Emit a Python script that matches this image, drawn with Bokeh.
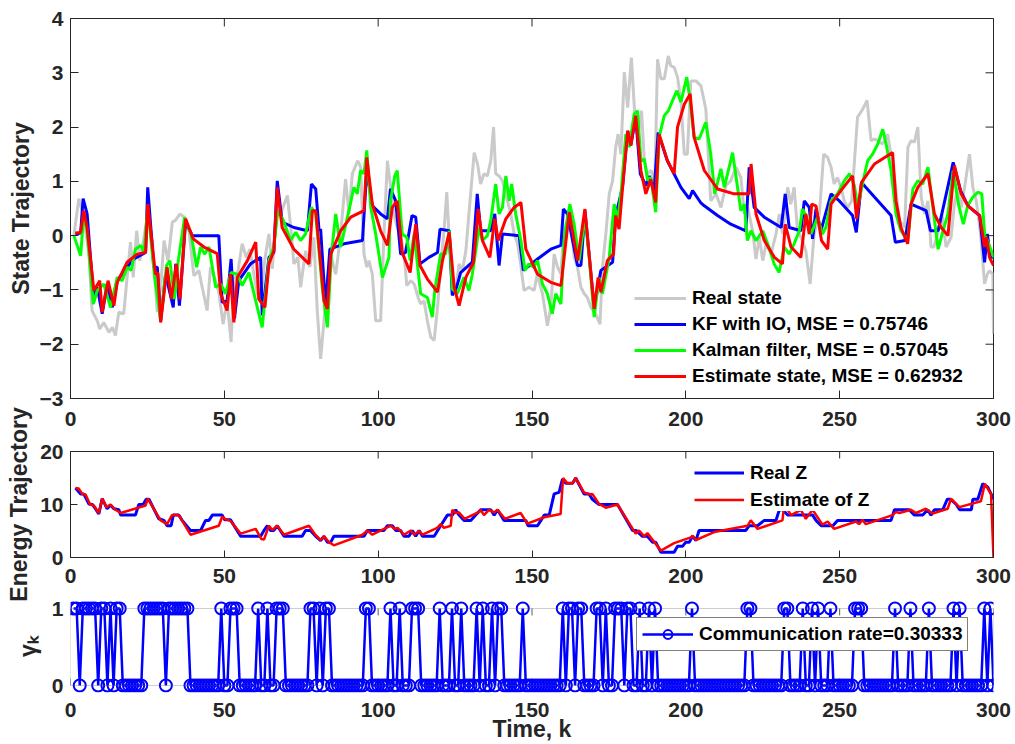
import math
from bokeh.plotting import figure
from bokeh.layouts import column
from bokeh.models import (Range1d, FixedTicker, Legend, LegendItem, BoxAnnotation)
from bokeh.embed import file_html
from bokeh.resources import INLINE

# ---------------- data ----------------
X_MIN, X_MAX = 0, 300
X_TICKS = [0, 50, 100, 150, 200, 250, 300]
STATE_TICKS = [-3, -2, -1, 0, 1, 2, 3, 4]
ENERGY_TICKS = [0, 10, 20]
GAMMA_TICKS = [0, 1]

REAL_STATE = [
    (1.1, 0.0), (2.7, 0.68), (4.1, 0.40), (6.0, -0.34), (7.0, -1.38), (8.7, -1.57), (9.5, -1.72),
    (10.8, -1.60), (12.5, -1.78), (13.6, -1.69), (14.6, -1.84), (15.7, -1.41), (17.3, -1.44),
    (18.4, -0.77), (19.5, -0.12), (20.4, -0.77), (21.5, 0.09), (22.5, -0.46), (23.8, -0.06),
    (25.1, 0.40), (26.6, -0.09), (28.2, -1.41), (29.3, -0.95), (30.4, -0.09), (31.7, -0.46),
    (33.1, 0.25), (34.1, 0.28), (35.6, 0.40), (36.9, 0.34), (38.5, 0.09), (40.1, -0.74),
    (41.7, -0.64), (42.8, -0.95), (44.4, -1.38), (45.5, -0.58), (47.2, -0.83), (48.2, -1.04),
    (49.6, -1.63), (50.9, -1.20), (52.2, -1.96), (53.1, -0.77), (54.2, -0.74), (55.8, -0.15),
    (57.1, -0.40), (58.3, -0.25), (59.6, -0.71), (60.7, -1.07), (61.8, -1.23), (63.1, -0.46),
    (64.5, 0.03), (65.6, -0.61), (67.0, 0.52), (68.3, 0.40), (70.5, 0.74), (71.8, 0.03),
    (72.6, -0.52), (73.9, -0.40), (74.8, -0.95), (76.4, -0.28), (77.8, -0.58), (79.1, -0.03),
    (80.2, -1.38), (81.3, -2.27), (82.4, -1.57), (83.5, -0.77), (84.8, -0.40), (86.2, -0.71),
    (87.6, -0.09), (89.4, 1.04), (90.5, 0.40), (91.6, 1.14), (92.7, 1.29), (93.4, 1.38),
    (94.3, 1.26), (95.4, -0.34), (96.3, -0.58), (97.0, -0.46), (98.1, -0.71), (99.2, -1.57),
    (100.8, -1.57), (101.9, 0.03), (103.0, 1.38), (104.1, 0.89), (105.1, 0.40), (106.2, 0.15),
    (107.3, 0.03), (108.6, -0.46), (109.3, -0.92), (110.6, -0.83), (111.7, -0.89), (113.0, -1.14),
    (113.8, -1.26), (114.9, -1.20), (116.0, -1.57), (117.1, -1.87), (118.2, -1.93), (119.3, -1.32),
    (120.3, -0.58), (121.4, 0.09), (122.3, 0.80), (123.0, 0.03), (124.1, -1.07), (125.2, -1.01),
    (126.3, -0.52), (127.4, -0.64), (128.5, -0.28), (129.5, 0.40), (131.2, 1.53), (132.3, 1.32),
    (133.3, 0.95), (134.4, 1.14), (135.5, 1.10), (136.6, 1.38), (137.5, 2.00), (138.2, 1.14),
    (139.3, 1.10), (140.4, 1.01), (142.0, 0.64), (143.1, 0.40), (144.2, 0.03), (145.3, -0.15),
    (146.3, -0.52), (147.4, -1.01), (149.0, -0.95), (150.7, -1.01), (151.7, -0.71), (153.4, -1.07),
    (155.0, -1.66), (156.1, -1.32), (157.2, -0.34), (158.3, -0.58), (159.4, -0.71), (160.2, 0.03),
    (161.5, 0.28), (162.6, 0.40), (163.7, -0.40), (164.8, -0.58), (165.9, -0.95), (167.0, -1.07),
    (168.0, -1.14), (169.1, -1.32), (170.7, -1.44), (172.1, -1.63), (172.9, -0.58), (174.0, 0.03),
    (175.1, 0.77), (176.2, 1.01), (177.2, 1.63), (178.0, 1.87), (178.9, 1.50), (180.0, 3.01),
    (181.1, 2.36), (182.3, 3.28), (183.4, 2.24), (184.5, 1.87), (185.6, 2.30), (186.5, 1.38),
    (187.5, 1.14), (188.8, 1.20), (189.9, 0.89), (190.8, 3.25), (191.9, 2.89), (193.0, 2.89),
    (194.3, 3.31), (195.1, 3.13), (196.2, 3.10), (197.3, 2.92), (198.4, 2.49), (199.5, 1.50),
    (200.5, 1.50), (201.6, 2.85), (203.3, 2.85), (204.9, 2.76), (206.5, 2.33), (208.1, 0.64),
    (209.8, 0.77), (211.4, 0.52), (213.0, 0.92), (214.6, 1.01), (216.3, 1.26), (217.9, 1.07),
    (219.0, 0.40), (220.1, 0.52), (221.7, 0.09), (222.8, -0.43), (223.9, -0.03), (225.0, -0.46),
    (226.1, -0.15), (227.7, -0.34), (229.3, 0.03), (230.4, 0.40), (231.5, 0.03), (233.1, 0.89),
    (234.1, 0.58), (235.2, 0.89), (236.3, 0.09), (237.9, -0.09), (239.0, -0.28), (240.4, -0.89),
    (241.7, 0.03), (243.4, 0.40), (244.8, 1.50), (246.1, 1.44), (247.2, 1.26), (248.2, 0.95),
    (249.3, 1.07), (250.4, 0.89), (251.5, 0.64), (252.6, 0.52), (253.9, 0.64), (255.8, 2.18),
    (257.5, 2.33), (258.9, 2.49), (260.2, 1.75), (261.3, 1.78), (262.4, 1.75), (264.0, 1.69),
    (265.6, 1.87), (267.8, 1.07), (269.4, 0.28), (271.1, 0.15), (272.2, 1.63), (273.2, 1.75),
    (274.3, 1.72), (275.4, 2.00), (276.5, 0.71), (277.6, 0.40), (278.7, 0.64), (279.7, -0.21),
    (280.6, -0.21), (281.9, 0.03), (283.2, 0.40), (284.6, -0.21), (286.2, -0.03), (287.3, 0.58),
    (288.4, 0.89), (289.5, 0.52), (290.6, 0.89), (292.2, 1.50), (293.3, 0.89), (294.4, 0.64),
    (295.8, 0.03), (297.1, -0.89), (298.0, -0.71), (298.7, -0.65), (299.8, -0.71), (300.0, -1.81),
]

KF_IO = [
    (1.6, 0.03), (3.3, 0.05), (4.1, 0.68), (5.4, 0.40), (7.6, -1.20), (8.7, -0.95), (10.3, -1.44),
    (11.9, -0.89), (13.6, -1.32), (15.2, -0.83), (18.4, -0.58), (20.6, -0.43), (24.4, -0.31),
    (25.1, 0.89), (27.1, -0.58), (28.2, -0.58), (29.3, -1.57), (30.9, -0.71), (33.4, -1.32),
    (34.2, -0.52), (35.4, -1.29), (37.4, 0.25), (39.6, 0.0), (48.2, 0.0), (49.3, -1.23),
    (50.9, -1.20), (52.2, -0.43), (53.3, -1.53), (54.7, -0.83), (58.5, -0.52), (61.8, -0.40),
    (62.3, -1.47), (64.5, -0.40), (66.1, -0.31), (67.2, 1.01), (68.8, 0.25), (72.6, 0.15),
    (77.0, 0.09), (78.3, 0.95), (79.7, 0.86), (80.8, 0.09), (81.3, 0.12), (82.9, -1.32),
    (84.3, -0.25), (88.9, -0.15), (94.9, -0.09), (96.3, 1.20), (98.1, 0.55), (100.8, 0.40),
    (103.0, 0.31), (104.0, 0.86), (105.7, 0.64), (107.3, -0.34), (108.9, -0.31), (111.0, 0.37),
    (112.2, 0.34), (113.6, -0.52), (116.5, -0.40), (119.3, -0.31), (120.1, 0.12), (123.1, 0.09),
    (124.1, -1.10), (125.5, -0.95), (126.8, -0.68), (130.6, -0.49), (132.2, 0.77), (133.3, 0.09),
    (136.5, 0.09), (137.9, 0.40), (139.3, -0.55), (140.4, 0.03), (145.8, 0.0), (147.2, -0.64),
    (151.8, -0.43), (156.1, -0.25), (159.4, -0.18), (160.2, 0.49), (161.5, 0.40), (164.8, -0.55),
    (165.9, -0.55), (167.2, 0.46), (170.2, -1.32), (172.4, -0.64), (176.2, -0.49), (177.2, 0.37),
    (179.4, 0.89), (181.1, 1.93), (182.1, 1.66), (183.7, 2.18), (185.2, 1.14), (187.0, 0.92),
    (188.1, 1.10), (189.7, 0.83), (191.0, 1.90), (194.0, 1.38), (198.4, 0.89), (201.1, 0.68),
    (202.2, 0.83), (204.8, 0.61), (206.0, 0.55), (210.3, 0.37), (214.6, 0.21), (219.5, 0.09),
    (220.6, 1.26), (222.2, 0.52), (225.5, 0.34), (231.0, 0.15), (232.3, 0.77), (233.6, 0.15),
    (237.4, 0.09), (238.5, 0.64), (240.1, 0.52), (241.2, -0.06), (242.3, 0.49), (243.9, 0.09),
    (247.2, 0.77), (249.9, 0.64), (254.2, 0.37), (255.4, 0.06), (257.1, 0.98), (261.3, 0.71),
    (266.7, 0.37), (268.1, -0.12), (271.2, -0.09), (273.2, 0.58), (278.1, 0.46), (279.5, 0.09),
    (282.0, 0.09), (286.9, 1.35), (289.3, 0.83), (291.7, 0.55), (295.5, 0.37), (297.1, -0.49),
    (298.0, 0.03), (299.0, -0.40), (300.0, -0.40),
]

KALMAN = [
    (1.1, 0.0), (3.3, -0.37), (4.3, 0.40), (5.4, 0.09), (7.4, -1.26), (8.7, -1.01), (10.8, -0.89),
    (13.0, -1.32), (15.2, -0.77), (16.8, -0.83), (18.4, -0.58), (19.7, -0.64), (21.1, -0.25),
    (22.8, -0.18), (23.9, -0.31), (25.1, 0.52), (27.3, -0.74), (29.3, -1.57), (31.2, -0.55),
    (32.3, -0.46), (33.8, -1.17), (34.9, -0.52), (37.1, 0.34), (39.2, 0.03), (41.0, -0.58),
    (42.3, -0.21), (43.6, -0.34), (45.0, -0.21), (47.2, -0.95), (48.8, -0.89), (50.4, -1.07),
    (52.2, -0.68), (54.2, -0.71), (55.8, -0.92), (58.0, -0.68), (60.2, -1.20), (62.3, -1.69),
    (64.5, -0.46), (66.1, -0.21), (67.4, 0.46), (69.2, 0.28), (71.5, -0.09), (73.2, 0.06),
    (74.8, -0.09), (76.4, 0.03), (78.3, 0.52), (79.7, 0.40), (81.8, -0.95), (83.5, -1.69),
    (84.8, -0.34), (86.2, 0.40), (87.8, -0.21), (90.5, 0.46), (92.1, 0.89), (93.2, 0.77),
    (94.3, 1.20), (95.4, 1.14), (96.3, 1.57), (97.6, 0.52), (99.2, 0.03), (101.4, -0.77),
    (103.5, -0.40), (104.0, 0.64), (105.4, 1.10), (106.2, 1.20), (107.8, 0.03), (109.3, -0.03),
    (110.4, -0.46), (111.7, 0.03), (113.8, -1.07), (116.0, -1.14), (117.6, -1.50), (118.4, -1.01),
    (120.3, -0.34), (121.9, -0.34), (123.1, 0.09), (124.1, -0.98), (125.7, -1.07), (127.9, -0.77),
    (129.5, -1.01), (130.6, -0.71), (132.8, 0.15), (133.9, -0.09), (135.5, 0.0), (136.6, 0.28),
    (138.2, 0.95), (139.3, 0.40), (140.4, 0.52), (141.5, 1.10), (142.6, 0.64), (143.4, 0.95),
    (144.7, 0.40), (146.4, -0.09), (147.7, -0.64), (149.0, -0.52), (150.5, -0.58), (151.8, -0.46),
    (153.4, -0.89), (155.0, -1.07), (156.6, -1.44), (157.7, -1.07), (159.4, -1.26), (160.6, 0.03),
    (162.3, 0.58), (163.7, 0.21), (165.3, -0.46), (167.2, 0.34), (168.6, -0.40), (170.2, -1.50),
    (171.8, -0.77), (172.9, -1.07), (175.1, -0.40), (176.7, 0.58), (177.9, 0.28), (179.1, 0.89),
    (180.5, 1.87), (181.6, 1.63), (183.2, 2.24), (184.3, 2.30), (185.4, 1.38), (186.5, 1.41),
    (187.6, 1.01), (188.6, 1.07), (190.2, 0.43), (191.3, 1.81), (193.0, 2.21), (194.3, 2.30),
    (195.7, 2.49), (197.1, 2.67), (198.4, 2.46), (200.3, 2.92), (201.4, 2.49), (202.7, 1.81),
    (204.3, 1.78), (206.5, 2.09), (208.1, 1.50), (209.4, 0.77), (211.4, 1.23), (212.5, 0.89),
    (215.2, 1.53), (216.8, 0.89), (217.9, 0.46), (219.0, 0.58), (220.0, -0.09), (221.2, 0.09),
    (222.8, -0.09), (225.0, 0.09), (227.0, -0.21), (228.7, -0.52), (230.3, -0.68), (232.0, -0.21),
    (233.6, -0.34), (235.2, -0.15), (236.9, 0.09), (237.9, 0.49), (239.3, 0.34), (240.7, 0.03),
    (242.8, 0.34), (244.4, 0.03), (245.5, 0.15), (247.2, 0.64), (249.3, 0.77), (251.5, 1.01),
    (253.2, 1.14), (254.8, 0.92), (255.9, 0.52), (257.5, 0.98), (259.1, 1.38), (260.7, 1.50),
    (262.4, 1.69), (264.0, 1.96), (265.1, 1.69), (266.7, 1.20), (268.3, 0.40), (269.9, 0.09),
    (272.1, -0.09), (273.8, 0.86), (275.4, 1.01), (277.0, 0.95), (278.7, 1.26), (280.3, 0.52),
    (282.0, -0.25), (283.6, 0.09), (285.2, 0.40), (286.9, 1.20), (288.6, 0.58), (290.2, 0.21),
    (291.6, 0.55), (293.3, 0.71), (294.9, 0.80), (296.2, 0.77), (297.1, 0.03), (298.0, -0.09),
    (299.7, -0.34), (300.0, -0.40),
]

ESTIMATE = [
    (1.6, 0.05), (3.3, 0.06), (4.3, 0.46), (5.4, 0.15), (7.6, -1.01), (9.5, -0.83), (10.3, -1.41),
    (12.2, -0.83), (14.1, -1.29), (15.2, -0.86), (18.4, -0.49), (21.7, -0.34), (24.4, -0.31),
    (25.1, 0.58), (27.6, -0.71), (28.4, -0.68), (29.3, -1.60), (31.4, -0.58), (32.8, -1.17),
    (34.4, -0.52), (35.6, -1.17), (37.4, 0.31), (39.9, -0.06), (43.4, -0.21), (47.7, -0.33),
    (48.8, -1.07), (50.9, -1.38), (52.0, -0.71), (53.1, -1.60), (54.2, -0.77), (57.5, -0.46),
    (60.2, -0.12), (61.2, -1.17), (63.2, -1.32), (64.5, -0.52), (66.1, -0.28), (67.2, 0.89),
    (68.8, 0.15), (72.6, -0.25), (77.5, -0.52), (78.6, 0.46), (79.7, 0.46), (82.4, -1.20),
    (83.5, -1.35), (84.6, -0.34), (87.8, 0.09), (91.1, 0.34), (95.4, 0.46), (96.3, 1.44),
    (98.1, 0.58), (100.8, 0.09), (103.0, -0.18), (104.6, 0.52), (106.2, 0.64), (107.8, -0.31),
    (110.4, -0.68), (112.2, 0.21), (113.6, -0.55), (116.0, -0.80), (119.3, -1.04), (120.9, -0.46),
    (123.1, 0.06), (124.7, -0.95), (126.3, -1.29), (128.5, -0.77), (131.0, -0.49), (132.5, 0.49),
    (133.9, -0.09), (136.3, -0.40), (137.9, 0.31), (139.0, -0.09), (141.5, 0.31), (144.2, 0.52),
    (146.4, 0.61), (148.0, -0.25), (151.8, -0.71), (156.1, -0.86), (159.4, -0.92), (162.1, 0.43),
    (164.8, -0.46), (167.2, 0.49), (170.2, -1.35), (171.5, -0.77), (172.4, -1.04), (174.5, -0.46),
    (176.5, -0.34), (177.2, 0.37), (178.3, 0.12), (179.4, 0.86), (181.1, 1.93), (182.1, 1.66),
    (183.7, 2.21), (185.4, 1.20), (187.0, 0.77), (188.6, 1.04), (190.2, 0.61), (191.3, 1.87),
    (194.0, 1.38), (196.2, 1.14), (197.3, 2.00), (199.5, 2.42), (201.4, 2.61), (202.7, 1.81),
    (206.0, 1.20), (210.3, 0.86), (215.7, 0.77), (220.6, 0.77), (221.2, 1.32), (222.8, 0.40),
    (225.5, -0.09), (228.8, -0.40), (231.4, -0.52), (232.3, 0.21), (234.2, -0.21), (237.4, -0.40),
    (239.0, 0.40), (240.1, 0.03), (240.9, 0.58), (242.3, 0.55), (244.1, -0.09), (246.1, -0.25),
    (247.2, 0.58), (250.4, 0.83), (254.2, 1.10), (255.5, 0.31), (257.1, 0.98), (261.3, 1.32),
    (267.2, 1.53), (268.3, 0.64), (269.9, 0.15), (272.1, -0.15), (273.2, 0.58), (275.4, 0.89),
    (278.7, 1.14), (280.8, 0.40), (283.0, 0.15), (285.2, 0.0), (287.3, 1.29), (289.5, 0.77),
    (291.7, 0.55), (295.5, 0.37), (297.1, -0.21), (297.7, -0.03), (298.7, -0.40), (300.0, -0.55),
]

REAL_Z = [
    (1.6, 13.1), (3.3, 12.0), (4.3, 12.0), (6.0, 10.1), (7.1, 10.0), (8.1, 9.2), (9.2, 8.2),
    (10.3, 11.1), (11.9, 9.2), (13.0, 9.9), (14.1, 9.2), (15.7, 9.0), (16.3, 8.0), (21.1, 8.0),
    (22.2, 10.0), (23.6, 10.0), (24.6, 11.0), (25.5, 11.0), (28.7, 7.3), (30.4, 7.0), (31.4, 6.0),
    (32.7, 6.0), (33.4, 8.0), (35.2, 8.0), (36.3, 7.0), (39.0, 5.1), (42.3, 5.1), (43.9, 7.0),
    (45.0, 7.0), (46.1, 8.0), (49.3, 8.0), (50.1, 7.1), (52.0, 7.1), (55.3, 4.0), (61.8, 4.0),
    (62.9, 5.1), (64.0, 6.0), (65.0, 5.1), (66.1, 5.1), (67.2, 6.0), (69.4, 4.0), (75.3, 4.0),
    (76.4, 5.1), (78.0, 5.1), (79.7, 4.0), (81.3, 3.2), (82.4, 4.0), (83.5, 2.9), (84.6, 2.9),
    (85.6, 4.0), (95.4, 4.0), (96.5, 5.1), (101.9, 5.1), (103.0, 6.0), (104.6, 6.0), (105.7, 5.1),
    (107.3, 5.1), (108.4, 4.0), (110.0, 4.0), (111.1, 5.1), (112.2, 4.0), (113.3, 5.1), (114.4, 4.0),
    (118.2, 4.0), (120.3, 6.0), (122.5, 8.0), (124.1, 8.0), (125.2, 9.0), (126.3, 8.0), (127.9, 7.0),
    (130.1, 7.0), (131.7, 8.0), (133.3, 9.0), (136.6, 9.0), (137.7, 8.0), (138.8, 9.0), (140.9, 7.0),
    (148.0, 7.0), (148.7, 6.0), (151.8, 6.0), (152.9, 7.0), (154.0, 8.0), (155.6, 8.0), (157.2, 12.0),
    (158.8, 12.3), (159.9, 14.8), (161.0, 14.0), (163.2, 14.0), (164.2, 15.0), (166.9, 12.0),
    (168.5, 12.0), (169.6, 11.0), (171.8, 10.0), (177.8, 10.0), (182.7, 5.1), (183.8, 5.1),
    (185.9, 4.0), (187.5, 4.0), (189.2, 2.9), (190.2, 2.9), (191.9, 1.0), (196.2, 1.0), (197.3, 2.1),
    (198.9, 2.1), (200.0, 2.9), (201.1, 2.9), (202.2, 4.0), (203.3, 3.2), (204.3, 5.1), (219.5, 5.1),
    (220.6, 6.0), (223.3, 6.0), (225.5, 7.0), (229.3, 7.0), (230.4, 9.0), (231.5, 9.0), (233.1, 8.0),
    (241.2, 8.0), (242.3, 7.0), (244.0, 6.0), (247.8, 6.0), (249.3, 7.0), (266.7, 7.0), (267.8, 9.0),
    (272.6, 9.0), (274.3, 8.0), (277.0, 8.0), (278.6, 9.0), (279.7, 8.0), (280.8, 9.0), (283.5, 9.0),
    (285.0, 11.0), (286.0, 11.0), (287.9, 10.0), (289.0, 9.0), (292.8, 9.0), (293.3, 11.0),
    (294.9, 11.0), (296.5, 13.9), (298.1, 13.3), (299.2, 12.0), (300.0, 11.0),
]

EST_Z = [
    (1.6, 13.1), (2.7, 13.0), (3.8, 12.0), (4.9, 11.9), (6.3, 10.1), (7.6, 9.8), (9.2, 8.4),
    (10.3, 11.1), (11.7, 9.5), (13.0, 10.0), (14.6, 9.0), (16.3, 8.4), (24.4, 9.8), (25.1, 11.1),
    (29.3, 7.0), (31.4, 6.3), (33.0, 8.0), (35.2, 8.0), (39.0, 4.3), (48.2, 6.0), (49.3, 7.7),
    (50.4, 7.2), (52.0, 6.9), (55.3, 4.5), (60.2, 5.4), (62.0, 3.5), (62.9, 3.4), (64.5, 6.0),
    (65.6, 5.2), (67.2, 6.0), (69.4, 4.3), (77.5, 6.0), (79.7, 4.2), (81.3, 3.3), (82.4, 4.0),
    (84.0, 2.9), (85.6, 2.3), (94.9, 4.3), (96.5, 5.1), (98.1, 4.3), (104.1, 6.0), (105.2, 5.4),
    (106.3, 5.6), (108.4, 4.3), (110.6, 5.1), (111.7, 4.3), (113.3, 5.0), (114.4, 4.3), (119.2, 5.6),
    (120.3, 6.3), (121.4, 5.6), (123.6, 6.0), (124.1, 9.0), (125.2, 8.4), (126.3, 8.5), (128.1, 7.3),
    (132.8, 8.6), (133.3, 9.0), (134.4, 8.0), (136.0, 9.0), (137.7, 8.5), (138.8, 9.0), (141.2, 7.3),
    (146.3, 8.4), (148.5, 6.4), (154.0, 7.6), (159.3, 8.2), (160.1, 15.0), (161.5, 14.0),
    (163.1, 14.0), (164.2, 15.0), (166.9, 12.3), (168.6, 11.9), (169.6, 12.0), (171.8, 10.1),
    (174.0, 9.4), (177.8, 10.0), (183.7, 4.5), (184.8, 5.1), (186.5, 4.0), (187.5, 4.6),
    (191.9, 1.3), (196.2, 2.7), (201.6, 3.8), (202.2, 4.1), (203.3, 3.3), (209.2, 4.8),
    (220.1, 6.0), (221.1, 7.0), (223.3, 5.4), (231.4, 7.0), (232.0, 10.0), (234.2, 8.0),
    (237.4, 9.0), (239.0, 7.3), (241.2, 9.0), (244.4, 6.2), (246.1, 6.8), (248.2, 5.4),
    (255.3, 6.8), (256.3, 6.3), (257.4, 7.1), (258.5, 6.3), (267.2, 8.0), (268.3, 8.6),
    (269.4, 8.4), (273.2, 9.0), (274.8, 8.4), (278.0, 9.2), (280.2, 8.3), (285.1, 9.2),
    (286.2, 11.1), (288.9, 9.5), (295.9, 10.6), (297.2, 13.9), (299.2, 12.0), (300.0, 0.0),
]

# time steps k at which gamma_k = 1 (all other steps are 0)
GAMMA_ONE_STEPS = [
    1, 2, 4, 5, 6, 7, 8, 10, 11, 13, 15, 16, 24, 25, 26, 27, 28, 29, 30, 32, 33, 34, 35, 36, 37,
    38, 49, 52, 53, 54, 61, 64, 67, 68, 69, 78, 79, 81, 83, 84, 96, 97, 104, 107, 111, 112, 113,
    120, 124, 127, 132, 134, 137, 139, 140, 147, 160, 162, 163, 165, 166, 171, 172, 174, 177, 178,
    179, 181, 182, 185, 188, 190, 202, 220, 221, 232, 233, 238, 241, 243, 247, 255, 256, 257, 268,
    273, 279, 287, 289, 297, 299,
]
STEPS = list(range(1, 301))
GAMMA = [1 if k in GAMMA_ONE_STEPS else 0 for k in STEPS]

LEGEND_TOP = ["Real state", "KF with IO, MSE = 0.75746",
              "Kalman filter, MSE = 0.57045", "Estimate state, MSE = 0.62932"]
LEGEND_MID = ["Real Z", "Estimate of Z"]
LEGEND_BOT = "Communication rate=0.30333"

# ---------------- styling helpers ----------------
FONT = "Liberation Sans"
TXT = "#262626"


def style_axis(ax, ticks, tick_len=8, standoff=7, size="21px"):
    ax.ticker = FixedTicker(ticks=ticks)
    ax.major_tick_in = tick_len
    ax.major_tick_out = 0
    ax.minor_tick_in = 0
    ax.minor_tick_out = 0
    ax.axis_line_color = TXT
    ax.major_tick_line_color = TXT
    ax.major_label_text_font = FONT
    ax.major_label_text_font_style = "bold"
    ax.major_label_text_color = TXT
    ax.major_label_text_font_size = size
    ax.major_label_standoff = standoff
    ax.axis_label_text_font = FONT
    ax.axis_label_text_font_style = "bold"
    ax.axis_label_text_font_size = "23px"
    ax.axis_label_text_color = TXT


def edge_ticks(f, xs, ys, vertical, tick_len):
    # inward tick marks on the top / right frame edges (half of each dash is clipped by the frame)
    f.scatter(xs, ys, marker="dash", size=2 * tick_len, angle=(math.pi / 2 if vertical else 0),
              line_color=TXT, line_width=1)


def xy(pairs):
    return [a for a, _ in pairs], [b for _, b in pairs]


def make_fig(height, y_range, top, bottom, x_range):
    f = figure(width=1015, height=height, x_range=x_range, y_range=y_range,
               output_backend="svg", toolbar_location=None,
               min_border_left=70, min_border_right=22,
               min_border_top=top, min_border_bottom=bottom)
    f.grid.visible = False
    f.outline_line_color = TXT
    f.outline_line_width = 1
    f.background_fill_color = "white"
    f.border_fill_color = "white"
    return f


def legend_style(lg, size="19px"):
    lg.label_text_font = FONT
    lg.label_text_font_style = "bold"
    lg.label_text_font_size = size
    lg.label_text_color = "black"
    lg.background_fill_color = "white"
    lg.background_fill_alpha = 1.0
    lg.margin = 0


xr = Range1d(X_MIN, X_MAX)

# ---------------- top panel ----------------
p1 = make_fig(432, Range1d(STATE_TICKS[0], STATE_TICKS[-1]), 18, 34, xr)
style_axis(p1.xaxis[0], X_TICKS, standoff=13)
style_axis(p1.yaxis[0], STATE_TICKS)
p1.yaxis[0].axis_label = "State Trajectory"
p1.yaxis[0].axis_label_standoff = 3

rx, ry = xy(REAL_STATE)
r0 = p1.line(rx, ry, line_color="#cacaca", line_width=3)
bx, by = xy(KF_IO)
r1 = p1.line(bx, by, line_color="#0000ff", line_width=3)
gx, gy = xy(KALMAN)
r2 = p1.line(gx, gy, line_color="#00ff00", line_width=3)
ex, ey = xy(ESTIMATE)
r3 = p1.line(ex, ey, line_color="#ff0000", line_width=3)
edge_ticks(p1, X_TICKS, [STATE_TICKS[-1]] * len(X_TICKS), True, 8)
edge_ticks(p1, [X_MAX] * len(STATE_TICKS), STATE_TICKS, False, 8)

lg1 = Legend(items=[LegendItem(label=t, renderers=[r]) for t, r in zip(LEGEND_TOP, [r0, r1, r2, r3])],
             location=(564, 11), padding=4, spacing=4, glyph_width=52, glyph_height=22,
             label_height=22, label_standoff=6, border_line_color=None)
legend_style(lg1)
p1.add_layout(lg1)

# ---------------- middle panel (its canvas overlaps the top one; transparent border) ----------------
p2 = make_fig(226, Range1d(ENERGY_TICKS[0], ENERGY_TICKS[-1]), 71, 49, xr)
p2.border_fill_alpha = 0
p2.margin = (-52, 0, 0, 0)
style_axis(p2.xaxis[0], X_TICKS, tick_len=7, standoff=11)
style_axis(p2.yaxis[0], ENERGY_TICKS, tick_len=7)
p2.yaxis[0].axis_label = "Energy Trajectory"

zx, zy = xy(REAL_Z)
z0 = p2.line(zx, zy, line_color="#0000ff", line_width=3)
zx2, zy2 = xy(EST_Z)
z1 = p2.line(zx2, zy2, line_color="#ff0000", line_width=2.5)
edge_ticks(p2, X_TICKS, [ENERGY_TICKS[-1]] * len(X_TICKS), True, 7)
edge_ticks(p2, [X_MAX] * len(ENERGY_TICKS), ENERGY_TICKS, False, 7)
lg2 = Legend(items=[LegendItem(label=t, renderers=[r]) for t, r in zip(LEGEND_MID, [z0, z1])],
             location=(624, 46), padding=4, spacing=4, glyph_width=50, glyph_height=23,
             label_height=23, label_standoff=6, border_line_color=None)
legend_style(lg2)
p2.add_layout(lg2)

# ---------------- bottom panel ----------------
TICK_FRAC = 0.09  # inward tick length as a fraction of the 0..1 span
p3 = make_fig(152, Range1d(-0.0909, 1.1039), 8, 52, xr)
p3.border_fill_alpha = 0
p3.margin = (-14, 0, 0, 0)
p3.outline_line_color = None
style_axis(p3.xaxis[0], X_TICKS, tick_len=0, standoff=10)
style_axis(p3.yaxis[0], GAMMA_TICKS, tick_len=0, standoff=7)
p3.xaxis[0].axis_line_color = None
p3.yaxis[0].axis_line_color = None
p3.xaxis[0].axis_label = "Time, k"
p3.xaxis[0].axis_label_standoff = -4
p3.yaxis[0].axis_label = "γₖ"
p3.yaxis[0].axis_label_standoff = 8
p3.add_layout(BoxAnnotation(left=X_MIN, right=X_MAX, bottom=GAMMA_TICKS[0], top=GAMMA_TICKS[-1],
                            fill_alpha=0, line_color="#5a5a5a", line_width=1))
n = len(X_TICKS)
p3.segment(X_TICKS, [GAMMA_TICKS[0]] * n, X_TICKS, [GAMMA_TICKS[0] + TICK_FRAC] * n,
           line_color="#5a5a5a", line_width=1)
p3.segment(X_TICKS, [GAMMA_TICKS[-1]] * n, X_TICKS, [GAMMA_TICKS[-1] - TICK_FRAC] * n,
           line_color="#5a5a5a", line_width=1)
g0 = p3.line(STEPS, GAMMA, line_color="#0000ff", line_width=2.5)
g1 = p3.scatter(STEPS, GAMMA, marker="circle", size=12, fill_color=None,
                line_color="#0000ff", line_width=2)
lg3 = Legend(items=[LegendItem(label=LEGEND_BOT, renderers=[g0, g1])],
             location=(566, 41), padding=5, spacing=0, glyph_width=51, glyph_height=22,
             label_height=22, label_standoff=6, border_line_color="black", border_line_width=1)
legend_style(lg3)
p3.add_layout(lg3)

layout = column(p1, p2, p3, spacing=0)
open("out.html", "w").write(file_html(layout, INLINE))
